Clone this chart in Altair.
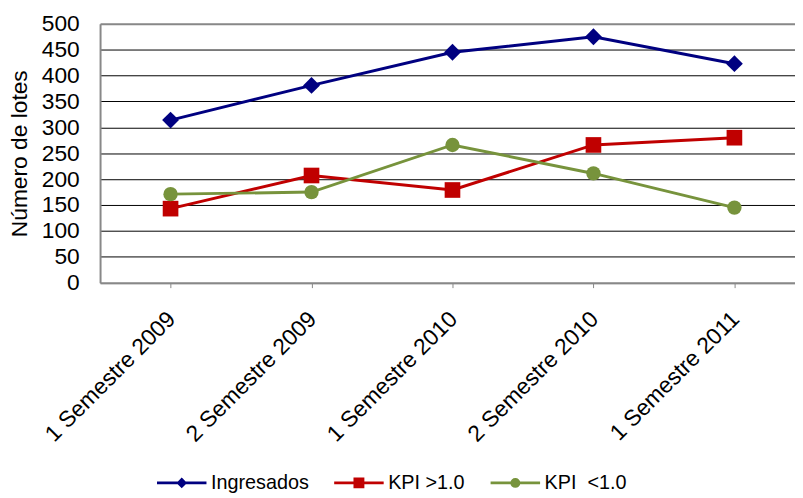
import altair as alt
import pandas as pd

categories = ["1 Semestre 2009", "2 Semestre 2009", "1 Semestre 2010",
              "2 Semestre 2010", "1 Semestre 2011"]
series_names = ["Ingresados", "KPI >1.0", "KPI \u00a0<1.0"]
ingresados = [314, 381, 445, 475, 423]
kpi_mayor = [143, 207, 179, 266, 280]
kpi_menor = [171, 175, 266, 211, 145]

colors = ["#000080", "#C00000", "#77933C"]
shapes = ["diamond", "square", "circle"]
legend_paths = [
    "M-1,0L1,0M0,-0.13L0.13,0L0,0.13L-0.13,0Z",
    "M-1,0L1,0M-0.16,-0.16L0.16,-0.16L0.16,0.16L-0.16,0.16Z",
    "M-1,0L1,0M-0.14,0A0.14,0.14 0 1,0 0.14,0A0.14,0.14 0 1,0 -0.14,0Z",
]

rows = []
for name, vals in zip(series_names, [ingresados, kpi_mayor, kpi_menor]):
    for c, v in zip(categories, vals):
        rows.append({"cat": c, "series": name, "value": v})
df = pd.DataFrame(rows)

FONT = "Liberation Sans"

x_enc = alt.X(
    "cat:N",
    sort=categories,
    scale=alt.Scale(type="point", padding=0.5, range=[0, 712]),
    axis=alt.Axis(
        title=None,
        labelAngle=-45,
        labelAlign="right",
        labelBaseline="top",
        labelFontSize=23,
        labelFont=FONT,
        labelColor="black",
        labelOffset=-7,
        labelPadding=20,
        tickSize=5,
        tickColor="#888888",
        tickWidth=1,
        domainColor="#888888",
        domainWidth=2,
        grid=False,
    ),
)
y_enc = alt.Y(
    "value:Q",
    scale=alt.Scale(domain=[0, 500]),
    axis=alt.Axis(
        title="Número de lotes",
        titleFont=FONT,
        titleFontSize=23,
        titleFontWeight="normal",
        titleColor="black",
        titlePadding=10,
        values=list(range(0, 501, 50)),
        labelFontSize=23,
        labelFont=FONT,
        labelColor="black",
        labelPadding=21,
        ticks=False,
        tickSize=0,
        domainColor="#888888",
        domainWidth=2,
        grid=True,
        gridColor={"condition": {"test": "datum.value === 500 || datum.value === 0",
                                 "value": "#888888"},
                   "value": "black"},
        gridWidth={"condition": {"test": "datum.value === 500",
                                 "value": 2},
                   "value": 1},
        gridOpacity=1,
    ),
)
color_scale = alt.Scale(domain=series_names, range=colors)

lines = alt.Chart(df).mark_line(strokeWidth=3).encode(
    x=x_enc, y=y_enc,
    color=alt.Color("series:N", scale=color_scale, legend=None),
    detail="series:N",
)
points = alt.Chart(df).mark_point(filled=True, opacity=1).encode(
    x=x_enc, y=y_enc,
    color=alt.Color("series:N", scale=color_scale, legend=None),
    shape=alt.Shape("series:N", scale=alt.Scale(domain=series_names, range=shapes), legend=None),
    size=alt.Size("series:N", scale=alt.Scale(domain=series_names, range=[290, 210, 180]), legend=None),
)

leg = alt.Legend(
    title=None,
    orient="none",
    direction="horizontal",
    legendX=56,
    legendY=437,
    symbolSize=2500,
    symbolStrokeWidth=3,
    labelFont=FONT,
    labelFontSize=20,
    labelColor="black",
    labelOffset=3,
    columnPadding=19,
    padding=0,
)
legend_layer = alt.Chart(df).mark_point(filled=True, opacity=1, strokeWidth=3).transform_filter(
    "datum.value < 0"
).encode(
    x=x_enc, y=y_enc,
    color=alt.Color("series:N", scale=alt.Scale(domain=series_names, range=colors), legend=leg),
    stroke=alt.Stroke("series:N", scale=alt.Scale(domain=series_names, range=colors), legend=leg),
    shape=alt.Shape("series:N", scale=alt.Scale(domain=series_names, range=legend_paths), legend=leg),
)

chart = alt.layer(lines, points, legend_layer).resolve_scale(
    shape="independent", size="independent", color="independent", stroke="independent"
).properties(
    width=702,
    height=261.5,
    autosize=alt.AutoSizeParams(type="none"),
    padding={"left": 93, "top": 13.5, "right": 0, "bottom": 210},
).configure_view(
    stroke="#888888", strokeWidth=2
).configure(background="white")

chart.save("out.html", embed_options={"renderer": "svg", "actions": False})
